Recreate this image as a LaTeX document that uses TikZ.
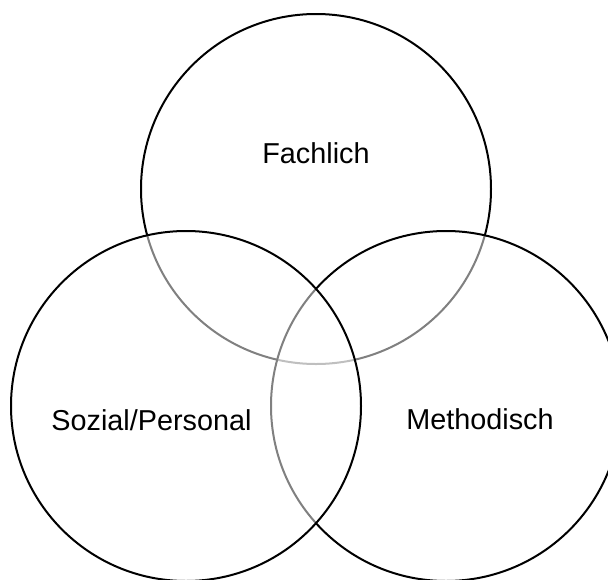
\documentclass[tikz,border=0pt]{standalone}
\usepackage{fontspec}
\setmainfont{Liberation Sans}
\tikzset{
  venn/.style={draw=black, line width=2pt, fill=white, fill opacity=0.5, draw opacity=1},
  lbl/.style={anchor=base, font=\fontsize{28.8}{34}\selectfont, text=black, inner sep=0pt}
}
\begin{document}
\begin{tikzpicture}[x=1pt,y=-1pt]
\useasboundingbox (0,0) rectangle (608,579);
\clip (0,0) rectangle (608,579);
\fill[white] (0,0) rectangle (608,579);
\path[venn] (316,189) circle[radius=175];
\path[venn] (446,406) circle[radius=175];
\path[venn] (186,406) circle[radius=175];
\node[lbl] (fach) at (316,163) {Fachlich};
\node[lbl] (sozial) at (151.5,430) {Sozial/Personal};
\node[lbl] (meth) at (480,429) {Methodisch};
\end{tikzpicture}
\end{document}
